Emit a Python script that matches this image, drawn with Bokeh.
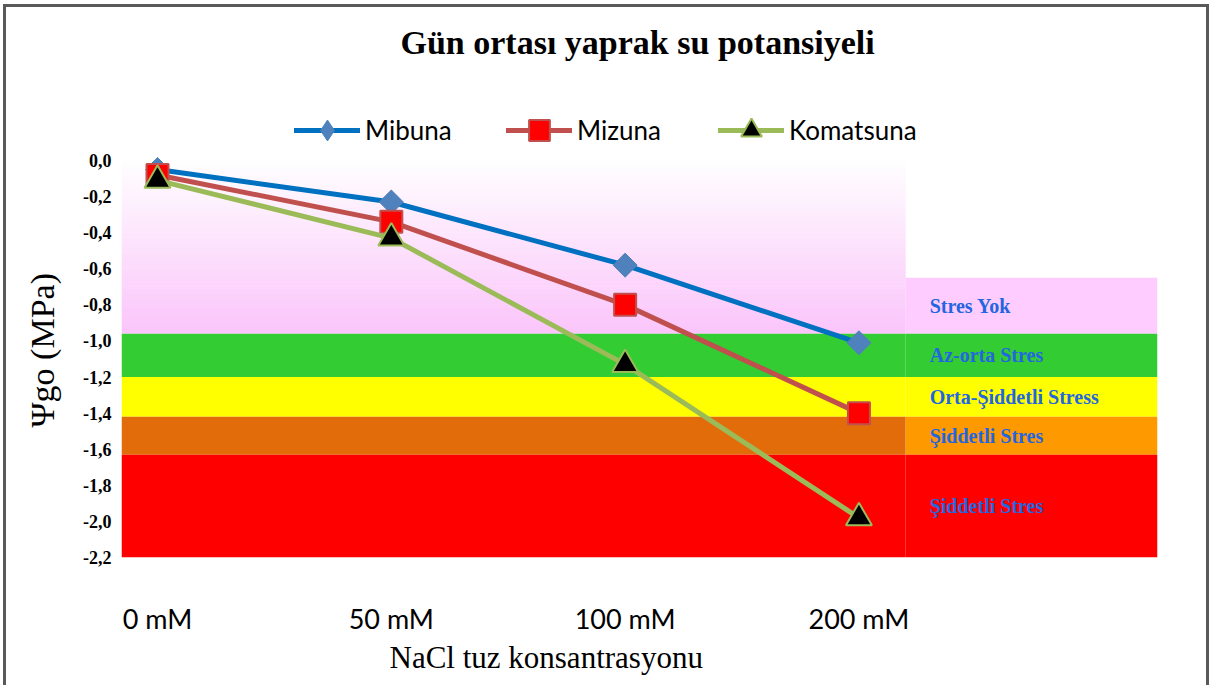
import numpy as np
from bokeh.plotting import figure
from bokeh.models import (Range1d, FixedTicker, CustomJSTickFormatter, Legend,
                          LegendItem, Title)
from bokeh.embed import file_html
from bokeh.resources import INLINE
from bokeh.core.properties import value

# ---------------- data ----------------
categories = ["0 mM", "50 mM", "100 mM", "200 mM"]
mibuna = [-0.05, -0.23, -0.58, -1.01]
mizuna = [-0.08, -0.34, -0.80, -1.40]
komatsuna = [-0.11, -0.43, -1.13, -1.98]
y_ticks = [0.0, -0.2, -0.4, -0.6, -0.8, -1.0, -1.2, -1.4, -1.6, -1.8, -2.0, -2.2]

# stress zones (MPa)
zone_names = ["Stres Yok", "Az-orta Stres", "Orta-Şiddetli Stress",
              "Şiddetli Stres", "Şiddetli Stres"]
zone_top = [-0.65, -0.96, -1.20, -1.42, -1.63]      # right-hand key
zone_bottom = [-0.96, -1.20, -1.42, -1.63, -2.20]
plot_zone_top = [0.0, -0.96, -1.20, -1.42, -1.63]   # inside plot area
plot_zone_bottom = [-0.96, -1.20, -1.42, -1.63, -2.20]

# ---------------- styles / layout ----------------
plot_colors = [None, "#33CC33", "#FFFF00", "#E36C0A", "#FF0000"]
key_colors = ["#FFCCFF", "#33CC33", "#FFFF00", "#FF9900", "#FF0000"]
X_START, X_SPLIT, X_END = -0.154, 3.20, 4.277
Y_BOTTOM, Y_TOP = -2.2, 0.4988
TXT = "#000000"

xs = list(range(len(categories)))

W, H = 1206, 681
p = figure(width=W, height=H, output_backend="svg", toolbar_location=None,
           x_range=Range1d(X_START, X_END), y_range=Range1d(Y_BOTTOM, Y_TOP),
           min_border_left=113, min_border_right=55, min_border_top=63,
           min_border_bottom=131, title="Gün ortası yaprak su potansiyeli")
p.styles = {"margin-left": "3px", "margin-top": "4px",
            "border-left": "3px solid #595959",
            "border-top": "3px solid #595959",
            "border-right": "3px solid #595959"}
p.grid.visible = False
p.outline_line_color = None
p.background_fill_color = "white"

# title
p.title.text_font = "Liberation Serif"
p.title.text_font_style = "bold"
p.title.text_font_size = "34px"
p.title.text_color = TXT
p.title.align = "left"
p.title.offset = 279
p.title.standoff = 20

# gradient pink zone in plot
n = 48
edges = np.linspace(plot_zone_top[0], plot_zone_bottom[0], n + 1)
t = (np.arange(n) + 0.5) / n
cols = ["#%02x%02x%02x" % (int(255 - 4 * tt), int(255 - 58 * tt), int(255 - 4 * tt)) for tt in t]
p.quad(left=X_START, right=X_SPLIT, top=edges[:-1] + 0.003, bottom=edges[1:],
       fill_color=cols, line_color=None)
# solid zones in plot
p.quad(left=X_START, right=X_SPLIT, top=plot_zone_top[1:], bottom=plot_zone_bottom[1:],
       fill_color=plot_colors[1:], line_color=None)
# right-hand key zones
p.quad(left=X_SPLIT, right=X_END, top=zone_top, bottom=zone_bottom,
       fill_color=key_colors, line_color=None)
mids = [(a + b) / 2 for a, b in zip(zone_top, zone_bottom)]
p.text(x=[X_SPLIT] * len(zone_names), y=mids, text=zone_names, x_offset=24,
       text_baseline="middle", text_align="left",
       text_font=value("Liberation Serif"), text_font_style="bold",
       text_font_size="20px", text_color="#2266E0")

# series
line_kw = dict(line_width=5, line_cap="round", line_join="round")
l1 = p.line(xs, mibuna, line_color="#0070C0", **line_kw)
s1 = p.scatter(xs, mibuna, marker="square", angle=np.pi / 4, size=17,
               fill_color="#4F81BD", line_color="#4F81BD", line_width=1)
# diamond used for the legend key only (a single undefined point, nothing drawn)
k1 = p.scatter(x=[np.nan], y=[np.nan], marker="diamond", size=20,
               fill_color="#4F81BD", line_color="#4F81BD", line_width=1)
l2 = p.line(xs, mizuna, line_color="#C0504D", **line_kw)
s2 = p.scatter(xs, mizuna, marker="square", size=22,
               fill_color="#FF0000", line_color="#C0504D", line_width=2)
l3 = p.line(xs, komatsuna, line_color="#9BBB59", **line_kw)
s3 = p.scatter(xs, komatsuna, marker="triangle", size=26,
               fill_color="black", line_color="#9BBB59", line_width=2)

legend = Legend(items=[LegendItem(label="Mibuna", renderers=[l1, k1]),
                       LegendItem(label="Mizuna", renderers=[l2, s2]),
                       LegendItem(label="Komatsuna", renderers=[l3, s3])],
                orientation="horizontal", location=(173, 401),
                glyph_width=66, glyph_height=52, label_width=122, spacing=19,
                label_standoff=5, padding=0, margin=0,
                border_line_alpha=0, background_fill_alpha=0,
                label_text_font="Lato", label_text_font_size="26px",
                label_text_color=TXT)
p.add_layout(legend)

# axes
for ax in (p.xaxis[0], p.yaxis[0]):
    ax.axis_line_color = None
    ax.major_tick_line_color = None
    ax.minor_tick_line_color = None

p.xaxis.ticker = FixedTicker(ticks=xs)
p.xaxis.major_label_overrides = {i: c for i, c in enumerate(categories)}
p.xaxis.major_label_text_font = "Lato"
p.xaxis.major_label_text_font_size = "27px"
p.xaxis.major_label_text_color = TXT
p.xaxis.major_label_standoff = 38

p.yaxis.ticker = FixedTicker(ticks=y_ticks)
p.yaxis.formatter = CustomJSTickFormatter(code="return tick.toFixed(1).replace('.', ',')")
p.yaxis.major_label_text_font = "Liberation Serif"
p.yaxis.major_label_text_font_style = "bold"
p.yaxis.major_label_text_font_size = "18px"
p.yaxis.major_label_text_color = TXT
p.yaxis.major_label_standoff = 4

ylab = Title(text="Ψgo (MPa)", align="left", vertical_align="top", offset=130,
             text_font="Liberation Serif", text_font_style="normal",
             text_font_size="34px", text_color=TXT, standoff=35)
p.add_layout(ylab, "left")

xlab = Title(text="NaCl tuz konsantrasyonu", align="left", offset=268,
             text_font="Liberation Serif", text_font_style="normal",
             text_font_size="31px", text_color=TXT, standoff=0)
p.add_layout(xlab, "below")

open("out.html", "w").write(file_html(p, INLINE))
